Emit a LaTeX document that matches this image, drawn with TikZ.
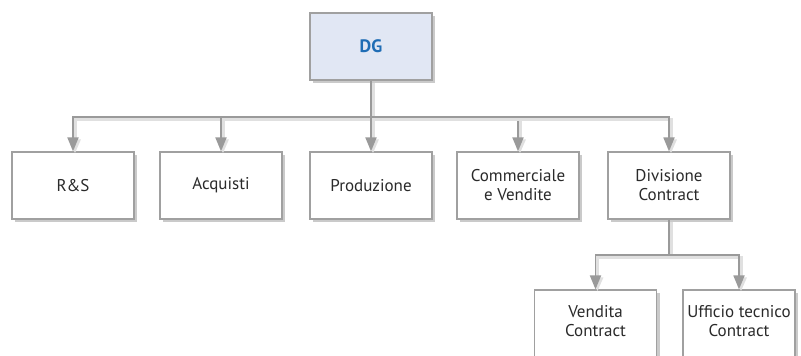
\documentclass[tikz,border=0pt]{standalone}
\usepackage{fontspec}
\setmainfont{PT Sans}
\usetikzlibrary{arrows.meta,shadows}
\definecolor{linegray}{HTML}{9A9A9A}
\definecolor{boxgray}{HTML}{A0A0A0}
\definecolor{dgfill}{HTML}{E1E7F4}
\definecolor{dgblue}{HTML}{1F6DB5}
\definecolor{textgray}{HTML}{2A2A2A}

\begin{document}
\begin{tikzpicture}[x=1pt, y=-1pt, >={Triangle[length=14pt,width=11pt]},
    unit/.style={rectangle, draw=boxgray, line width=1.2pt, fill=white,
      minimum width=122pt, minimum height=67pt, align=center,
      text=textgray, font=\fontsize{17}{19}\selectfont,
      drop shadow={shadow xshift=3pt, shadow yshift=-3pt, opacity=0.35, fill=black!60}},
    link/.style={draw=linegray, line width=1.8pt,
      preaction={draw=black!12, line width=3pt, transform canvas={shift={(2pt,-2pt)}}}}]
    \useasboundingbox (0,0) rectangle (801,356);
    \clip (0,0) rectangle (801,356);

    \node[unit, fill=dgfill, text=dgblue, font=\fontsize{18}{20}\selectfont\bfseries] (dg) at (371,46.5) {DG};

    \node[unit] (rs) at (73,185.5) {R\&S};
    \node[unit] (acq) at (221,185.5) {Acquisti};
    \node[unit] (prod) at (371,185.5) {Produzione};
    \node[unit] (comm) at (518,185.5) {Commerciale\\e Vendite};
    \node[unit] (div) at (669,185.5) {Divisione\\Contract};

    \node[unit, minimum height=80pt, text depth=19pt] (vend) at (595.5,330) {Vendita\\Contract};
    \node[unit, minimum width=112pt, minimum height=80pt, text depth=19pt] (uff) at (739,330) {Ufficio tecnico\\Contract};

    \coordinate (j1) at (371,117);
    \coordinate (j2) at (669,255);

    \draw[link] (dg) -- (j1);
    \draw[link,->] (j1) -| (rs);
    \draw[link,->] (j1) -| (acq);
    \draw[link,->] (j1) -- (prod);
    \draw[link,->] (j1) -| (comm);
    \draw[link,->] (j1) -| (div);

    \draw[link] (div) -- (j2);
    \draw[link,->] (j2) -| (vend);
    \draw[link,->] (j2) -| (uff);
\end{tikzpicture}
\end{document}
